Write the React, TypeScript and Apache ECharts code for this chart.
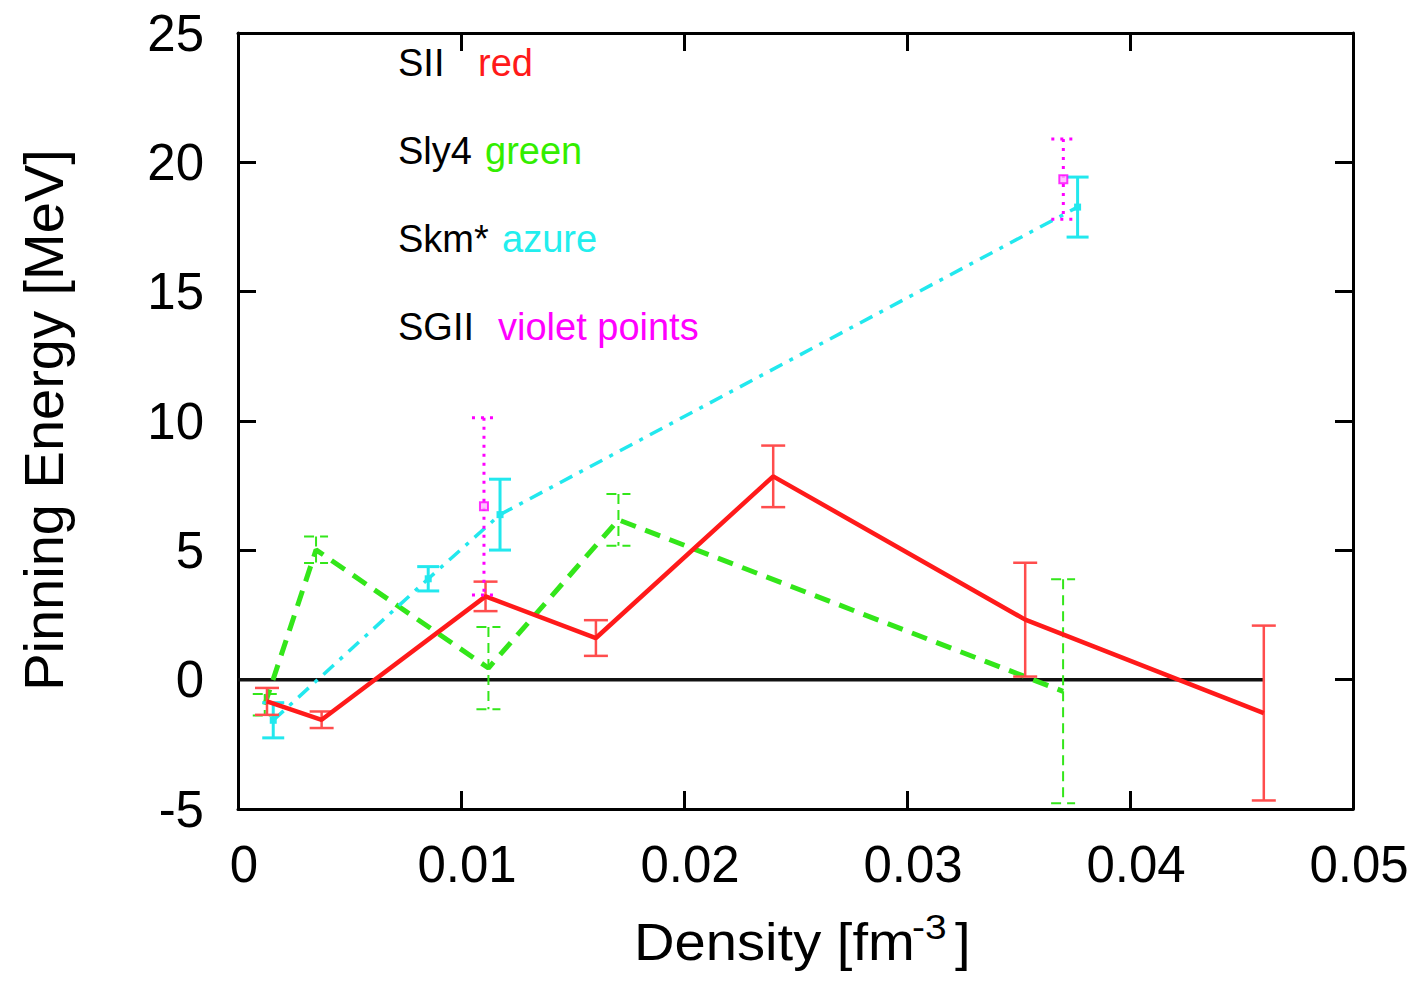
import React, { useEffect, useRef } from "react";
import * as echarts from "echarts";

// SII (red)
const redX = [0.0013, 0.00375, 0.0111, 0.01605, 0.024, 0.0353, 0.046];
const redY = [-0.84, -1.55, 3.22, 1.61, 7.86, 2.32, -1.29];
const redErr = [0.52, 0.32, 0.57, 0.69, 1.19, 2.2, 3.38];

// Sly4 (green)
const greenX = [0.0012, 0.0035, 0.01123, 0.01706, 0.037];
const greenY = [-0.97, 5.02, 0.45, 6.18, -0.45];
const greenErr = [0.42, 0.51, 1.59, 1.0, 4.33];

// Skm* (azure)
const azureX = [0.00158, 0.00853, 0.01175, 0.03765];
const azureY = [-1.57, 3.9, 6.38, 18.27];
const azureErr = [0.68, 0.47, 1.37, 1.16];

// SGII (violet points)
const violetX = [0.01103, 0.03701];
const violetY = [6.7, 19.35];
const violetErr = [3.43, 1.55];

// zero reference line
const zeroX = [0, 0.046];
const zeroY = [0, 0];

const legendRows = [
  { name: "SII", word: "red", color: "#ff1a1a" },
  { name: "Sly4", word: "green", color: "#33ee00" },
  { name: "Skm*", word: "azure", color: "#22eeee" },
  { name: "SGII", word: "violet points", color: "#ff00ff" },
];

const FONT = "Liberation Sans, Arial, Helvetica, sans-serif";

const RED = "#ff1a1a";
const GREEN = "#33e61a";
const AZURE = "#22e8ee";
const VIOLET = "#ff00ff";

function pairs(xs: number[], ys: number[]) {
  return xs.map((x, i) => [x, ys[i]]);
}
function triples(xs: number[], ys: number[], es: number[]) {
  return xs.map((x, i) => [x, ys[i], es[i]]);
}

function errorSeries(
  data: number[][],
  color: string,
  lineWidth: number,
  lineDash: number[] | null,
  capHalf: number,
  z: number
) {
  return {
    type: "custom",
    z,
    data,
    encode: { x: 0, y: 1 },
    renderItem: (params: any, api: any) => {
      const x = api.value(0);
      const y = api.value(1);
      const e = api.value(2);
      const top = api.coord([x, y + e]);
      const bot = api.coord([x, y - e]);
      const style: any = { stroke: color, lineWidth, fill: null };
      if (lineDash) style.lineDash = lineDash;
      return {
        type: "group",
        children: [
          { type: "line", shape: { x1: top[0], y1: top[1], x2: bot[0], y2: bot[1] }, style },
          { type: "line", shape: { x1: top[0] - capHalf, y1: top[1], x2: top[0] + capHalf, y2: top[1] }, style },
          { type: "line", shape: { x1: bot[0] - capHalf, y1: bot[1], x2: bot[0] + capHalf, y2: bot[1] }, style },
        ],
      };
    },
  };
}

export default function App() {
  const ref = useRef<HTMLDivElement>(null);

  useEffect(() => {
    if (!ref.current) return;
    const chart = echarts.init(ref.current, undefined, { renderer: "svg" });

    const axisLine = { show: true, onZero: false, lineStyle: { color: "#000", width: 3 } };
    const tick = { show: true, inside: true, length: 18, lineStyle: { color: "#000", width: 3 } };

    const graphics: any[] = [];
    legendRows.forEach((r, i) => {
      const yc = 64 + i * 88;
      graphics.push({
        type: "text",
        left: 398,
        top: yc - 20,
        style: { text: r.name, font: `38px ${FONT}`, fill: "#000" },
      });
    });
    const wordX = [478, 485, 502, 498];
    legendRows.forEach((r, i) => {
      const yc = 64 + i * 88;
      graphics.push({
        type: "text",
        left: wordX[i],
        top: yc - 20,
        style: { text: r.word, font: `38px ${FONT}`, fill: r.color },
      });
    });
    // axis titles
    graphics.push({
      type: "text",
      x: 43,
      y: 420,
      rotation: Math.PI / 2,
      style: {
        text: "Pinning Energy [MeV]",
        font: `56px ${FONT}`,
        fill: "#000",
        align: "center",
        verticalAlign: "middle",
      },
    });
    graphics.push({
      type: "text",
      x: 634,
      y: 942,
      scaleX: 1.08,
      style: { text: "Density [fm", font: `52px ${FONT}`, fill: "#000", align: "left", verticalAlign: "middle" },
    });
    graphics.push({
      type: "text",
      x: 912,
      y: 927,
      scaleX: 1.08,
      style: { text: "-3", font: `36px ${FONT}`, fill: "#000", align: "left", verticalAlign: "middle" },
    });
    graphics.push({
      type: "text",
      x: 955,
      y: 942,
      scaleX: 1.08,
      style: { text: "]", font: `52px ${FONT}`, fill: "#000", align: "left", verticalAlign: "middle" },
    });

    const option: any = {
      animation: false,
      backgroundColor: "#fff",
      grid: { left: 238, top: 33, width: 1115, height: 776, containLabel: false },
      xAxis: [
        {
          type: "value",
          min: 0,
          max: 0.05,
          interval: 0.01,
          position: "bottom",
          axisLine,
          axisTick: tick,
          splitLine: { show: false },
          axisLabel: {
            fontSize: 51,
            fontFamily: FONT,
            color: "#000",
            margin: 30,
            padding: [0, 0, 0, 12],
            formatter: (v: number) => (v === 0 ? "0" : v.toFixed(2)),
          },
        },
        {
          type: "value",
          min: 0,
          max: 0.05,
          interval: 0.01,
          position: "top",
          axisLine,
          axisTick: tick,
          splitLine: { show: false },
          axisLabel: { show: false },
        },
      ],
      yAxis: [
        {
          type: "value",
          min: -5,
          max: 25,
          interval: 5,
          position: "left",
          axisLine,
          axisTick: tick,
          splitLine: { show: false },
          axisLabel: { fontSize: 51, fontFamily: FONT, color: "#000", margin: 34 },
        },
        {
          type: "value",
          min: -5,
          max: 25,
          interval: 5,
          position: "right",
          axisLine,
          axisTick: tick,
          splitLine: { show: false },
          axisLabel: { show: false },
        },
      ],
      graphic: graphics,
      series: [
        {
          type: "line",
          data: pairs(zeroX, zeroY),
          showSymbol: false,
          lineStyle: { color: "#111", width: 3.5 },
          z: 1,
        },
        errorSeries(triples(greenX, greenY, greenErr), GREEN, 2, [10, 6], 12, 2),
        {
          type: "line",
          name: "Sly4",
          data: pairs(greenX, greenY),
          showSymbol: false,
          lineStyle: { color: GREEN, width: 5, type: [16, 10] },
          z: 3,
        },
        errorSeries(triples(azureX, azureY, azureErr), AZURE, 3, null, 11, 4),
        {
          type: "line",
          name: "Skm*",
          data: pairs(azureX, azureY),
          symbol: "rect",
          symbolSize: 7,
          showSymbol: true,
          itemStyle: { color: AZURE },
          lineStyle: { color: AZURE, width: 3.5, type: [14, 8, 4, 8] },
          z: 5,
        },
        errorSeries(triples(redX, redY, redErr), "#ff4d4d", 2.5, null, 12, 6),
        {
          type: "line",
          name: "SII",
          data: pairs(redX, redY),
          showSymbol: false,
          lineStyle: { color: RED, width: 4.5 },
          z: 7,
        },
        errorSeries(triples(violetX, violetY, violetErr), VIOLET, 3, [3, 6], 12, 8),
        {
          type: "scatter",
          name: "SGII",
          data: pairs(violetX, violetY),
          symbol: "rect",
          symbolSize: 8,
          itemStyle: { color: "#ffb3ff", borderColor: VIOLET, borderWidth: 2 },
          z: 9,
        },
      ],
    };

    chart.setOption(option);
    return () => chart.dispose();
  }, []);

  return (
    <div
      ref={ref}
      style={{ position: "absolute", left: 0, top: 0, width: 1424, height: 987, background: "#fff" }}
    />
  );
}
